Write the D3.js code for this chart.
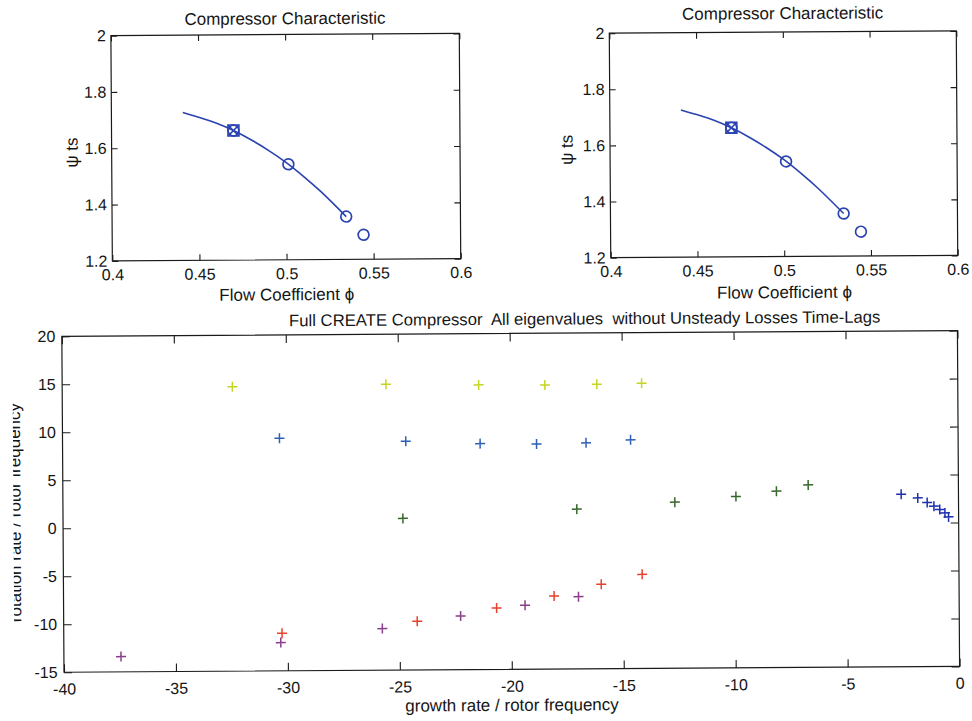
<!DOCTYPE html>
<html>
<head>
<meta charset="utf-8">
<script src="https://cdn.jsdelivr.net/npm/d3@7"></script>
<style>
  html, body { margin: 0; padding: 0; background: #fff; }
  svg { display: block; }
  text { font-family: "Liberation Sans", Arial, Helvetica, sans-serif; fill: #151515; }
</style>
</head>
<body>
<svg id="fig" width="972" height="721"></svg>
<script>
// ---- compressor characteristic (speedline) ----
const speedlinePhi = [0.441, 0.450, 0.460, 0.470, 0.480, 0.490, 0.500, 0.510, 0.520, 0.5344];
const speedlinePsi = [1.725, 1.708, 1.687, 1.660, 1.627, 1.589, 1.546, 1.496, 1.441, 1.352];
const operatingPhi = [0.470, 0.5014, 0.5344, 0.5443];
const operatingPsi = [1.660, 1.539, 1.352, 1.287];
const designPhi = [0.470];
const designPsi = [1.660];
const charXTicks = [0.4, 0.45, 0.5, 0.55, 0.6];
const charXLabels = ["0.4", "0.45", "0.5", "0.55", "0.6"];
const charYTicks = [1.2, 1.4, 1.6, 1.8, 2];
const charYLabels = ["1.2", "1.4", "1.6", "1.8", "2"];

// ---- eigenvalues: [growth rate, rotation rate] per mode family ----
const modeYellow = [[-32.40, 14.64], [-25.54, 14.79], [-21.40, 14.66], [-18.44, 14.61], [-16.12, 14.65], [-14.12, 14.73]];
const modeBlue   = [[-30.31, 9.23], [-24.67, 8.84], [-21.35, 8.54], [-18.83, 8.47], [-16.62, 8.55], [-14.63, 8.83]];
const modeGreen  = [[-24.82, 0.80], [-17.05, 1.65], [-12.67, 2.31], [-9.94, 2.85], [-8.13, 3.39], [-6.71, 4.02]];
const modeNavy   = [[-2.56, 2.99], [-1.82, 2.59], [-1.40, 2.10], [-1.10, 1.72], [-0.84, 1.36], [-0.61, 1.01], [-0.45, 0.59]];
const modeRed    = [[-30.25, -11.09], [-24.21, -9.93], [-20.66, -8.60], [-18.09, -7.39], [-15.98, -6.20], [-14.15, -5.19]];
const modePurple = [[-37.45, -13.41], [-30.31, -12.06], [-25.77, -10.67], [-22.27, -9.41], [-19.39, -8.34], [-17.00, -7.47]];
const eigXTicks = [-40, -35, -30, -25, -20, -15, -10, -5, 0];
const eigYTicks = [-15, -10, -5, 0, 5, 10, 15, 20];

const modeSeries = [
  { pts: modeYellow, color: "#c6d520" },
  { pts: modeBlue,   color: "#2d5fb5" },
  { pts: modeGreen,  color: "#35662a" },
  { pts: modeNavy,   color: "#1c2fae" },
  { pts: modeRed,    color: "#e6412c" },
  { pts: modePurple, color: "#8a3d8c" }
];

const FONT = '"Liberation Sans", Arial, Helvetica, sans-serif';
const plain = d => String(d);   // ASCII hyphen for negatives
const svg = d3.select("#fig");
// the printed page sits very slightly rotated
const root = svg.append("g").attr("transform", "rotate(-0.37 486 360)");

function styleAxis(g, size) {
  g.attr("font-family", FONT).attr("font-size", size);
  g.selectAll(".tick line").attr("stroke", "#1a1a1a").attr("stroke-width", 1.1);
  g.selectAll(".tick text").attr("fill", "#151515");
  g.select(".domain").remove();
}

function frame(g, x0, x1, y0, y1) {
  g.append("rect").attr("x", x0).attr("y", y0).attr("width", x1 - x0).attr("height", y1 - y0)
    .attr("fill", "none").attr("stroke", "#1a1a1a").attr("stroke-width", 1.2);
}

// ---------- compressor characteristic panels ----------
function characteristic(box) {
  const g = root.append("g");
  const x = d3.scaleLinear().domain([0.4, 0.6]).range([box.x0, box.x1]);
  const y = d3.scaleLinear().domain([1.2, 2]).range([box.y1, box.y0]);
  const tk = 6;

  g.append("g").attr("transform", `translate(0,${box.y1})`)
    .call(d3.axisBottom(x).tickValues(charXTicks).tickFormat((d, i) => charXLabels[i]).tickSizeInner(-tk).tickSizeOuter(0).tickPadding(8))
    .call(a => styleAxis(a, 16));
  g.append("g").attr("transform", `translate(0,${box.y0})`)
    .call(d3.axisTop(x).tickValues(charXTicks).tickFormat("").tickSizeInner(-tk).tickSizeOuter(0))
    .call(a => styleAxis(a, 16));
  g.append("g").attr("transform", `translate(${box.x0},0)`)
    .call(d3.axisLeft(y).tickValues(charYTicks).tickFormat((d, i) => charYLabels[i]).tickSizeInner(-tk).tickSizeOuter(0).tickPadding(5))
    .call(a => styleAxis(a, 16));
  g.append("g").attr("transform", `translate(${box.x1},0)`)
    .call(d3.axisRight(y).tickValues(charYTicks).tickFormat("").tickSizeInner(-tk).tickSizeOuter(0))
    .call(a => styleAxis(a, 16));
  frame(g, box.x0, box.x1, box.y0, box.y1);

  const blue = "#2a43b0";
  const line = d3.line().x(d => x(d[0])).y(d => y(d[1])).curve(d3.curveCatmullRom);
  g.append("path").datum(d3.zip(speedlinePhi, speedlinePsi)).attr("d", line)
    .attr("fill", "none").attr("stroke", blue).attr("stroke-width", 1.6);

  g.selectAll("circle.op").data(d3.zip(operatingPhi, operatingPsi)).join("circle")
    .attr("class", "op").attr("cx", d => x(d[0])).attr("cy", d => y(d[1])).attr("r", 5.4)
    .attr("fill", "none").attr("stroke", blue).attr("stroke-width", 1.7);

  // design point: square with a cross
  const dp = d3.zip(designPhi, designPsi);
  g.selectAll("rect.dp").data(dp).join("rect").attr("class", "dp")
    .attr("x", d => x(d[0]) - 5.5).attr("y", d => y(d[1]) - 5.5).attr("width", 11).attr("height", 11)
    .attr("fill", "none").attr("stroke", blue).attr("stroke-width", 1.5);
  g.selectAll("path.dpx").data(dp).join("path").attr("class", "dpx")
    .attr("transform", d => `translate(${x(d[0])},${y(d[1])})`)
    .attr("d", "M-5.5,-5.5L5.5,5.5M-5.5,5.5L5.5,-5.5").attr("stroke", blue).attr("stroke-width", 1.5).attr("fill", "none");

  g.append("text").attr("x", (box.x0 + box.x1) / 2).attr("y", box.titleY).attr("text-anchor", "middle")
    .attr("font-size", 17).text("Compressor Characteristic");
  g.append("text").attr("x", (box.x0 + box.x1) / 2).attr("y", box.xlabY).attr("text-anchor", "middle")
    .attr("font-size", 17).text("Flow Coefficient \u03d5");
  g.append("text").attr("transform", `translate(${box.ylabX},${(box.y0 + box.y1) / 2 + 4}) rotate(-90)`)
    .attr("text-anchor", "middle").attr("font-size", 17).text("\u03c8 ts");
}

characteristic({ x0: 113, x1: 461.4, y0: 33.2, y1: 258.5, titleY: 23, xlabY: 299, ylabX: 79 });
characteristic({ x0: 611.4, x1: 958.4, y0: 34, y1: 258.5, titleY: 21, xlabY: 300, ylabX: 574 });

// ---------- eigenvalue map ----------
{
  const g = root.append("g");
  const box = { x0: 62, x1: 957.6, y0: 333.6, y1: 669.5 };
  const x = d3.scaleLinear().domain([-40, 0]).range([box.x0, box.x1]);
  const y = d3.scaleLinear().domain([-15, 20]).range([box.y1, box.y0]);
  const tk = 8;

  g.append("g").attr("transform", `translate(0,${box.y1})`)
    .call(d3.axisBottom(x).tickValues(eigXTicks).tickFormat(plain).tickSizeInner(-tk).tickSizeOuter(0).tickPadding(11))
    .call(a => styleAxis(a, 16));
  g.append("g").attr("transform", `translate(0,${box.y0})`)
    .call(d3.axisTop(x).tickValues(eigXTicks).tickFormat("").tickSizeInner(-tk).tickSizeOuter(0))
    .call(a => styleAxis(a, 16));
  g.append("g").attr("transform", `translate(${box.x0},0)`)
    .call(d3.axisLeft(y).tickValues(eigYTicks).tickFormat(plain).tickSizeInner(-tk).tickSizeOuter(0).tickPadding(6.5))
    .call(a => styleAxis(a, 16));
  g.append("g").attr("transform", `translate(${box.x1},0)`)
    .call(d3.axisRight(y).tickValues(eigYTicks).tickFormat("").tickSizeInner(-tk).tickSizeOuter(0))
    .call(a => styleAxis(a, 16));
  frame(g, box.x0, box.x1, box.y0, box.y1);

  modeSeries.forEach(s => {
    g.append("g").selectAll("path").data(s.pts).join("path")
      .attr("transform", d => `translate(${x(d[0])},${y(d[1])})`)
      .attr("d", "M-5,0H5M0,-5V5")
      .attr("stroke", s.color).attr("stroke-width", 1.5).attr("fill", "none");
  });

  g.append("text").attr("x", 585).attr("y", 325).attr("text-anchor", "middle")
    .attr("font-size", 16.7).style("white-space", "pre")
    .text("Full CREATE Compressor  All eigenvalues  without Unsteady Losses Time-Lags");
  g.append("text").attr("x", (box.x0 + box.x1) / 2).attr("y", 711).attr("text-anchor", "middle")
    .attr("font-size", 17).text("growth rate / rotor frequency");

  // y label runs off the left edge of the page
  svg.append("defs").append("clipPath").attr("id", "leftEdge")
    .append("rect").attr("x", 12.5).attr("y", 0).attr("width", 60).attr("height", 721);
  g.append("g").attr("clip-path", "url(#leftEdge)")
    .append("text").attr("transform", `translate(19.5,${(box.y0 + box.y1) / 2 + 8}) rotate(-90)`)
    .attr("text-anchor", "middle").attr("font-size", 17).text("rotation rate / rotor frequency");
}
</script>
</body>
</html>
